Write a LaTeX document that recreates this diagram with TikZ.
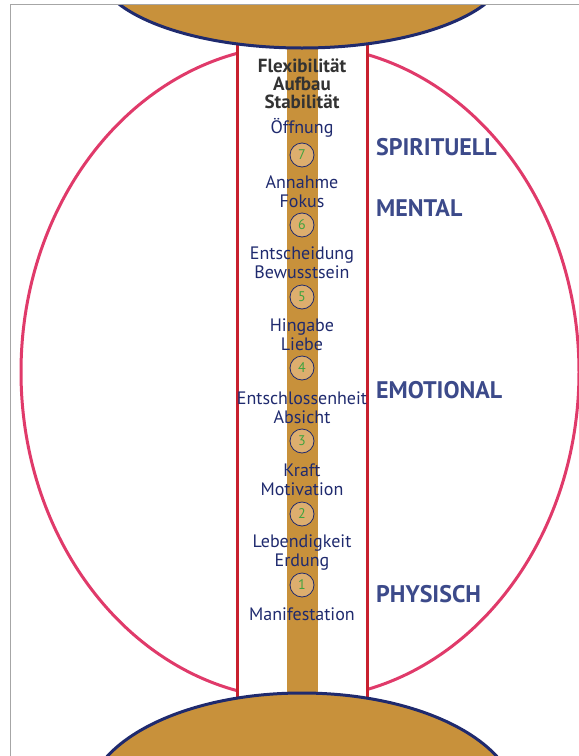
\documentclass[tikz,border=0pt]{standalone}
\usepackage{fontspec}
\setmainfont{PT Sans}
\usetikzlibrary{positioning}
\definecolor{Navy}{HTML}{1F2A6E}
\definecolor{Gold}{HTML}{C8913B}
\definecolor{Crimson}{HTML}{C8202E}
\definecolor{Rose}{HTML}{E03A6A}
\definecolor{Slate}{HTML}{3C4A8A}
\definecolor{Leaf}{HTML}{3FA33F}
\definecolor{Tan}{HTML}{DDAE6E}

\begin{document}
\begin{tikzpicture}[x=1pt,y=-1pt,
    stage/.style={font=\fontsize{18}{19.5}\selectfont,text=Navy,align=center,inner sep=0pt},
    level/.style={font=\fontsize{24}{26}\selectfont\bfseries,text=Slate,anchor=west,inner sep=0pt},
    num/.style={circle,draw=Navy,fill=Tan,line width=0.8pt,minimum size=24pt,inner sep=0pt,
      text=Leaf,font=\fontsize{14}{14}\selectfont}]
    \useasboundingbox (0,0) rectangle (579,756);
    \begin{scope}
      \clip (10,4) rectangle (579,756);
      % outer oval, cut by the strip
      \begin{scope}
        \clip (0,0) rectangle (237,756) (367,0) rectangle (579,756);
        \draw[Rose,line width=3pt] (300,372) ellipse [x radius=279pt,y radius=327pt];
      \end{scope}
      \draw[Crimson,line width=3pt] (237,30) -- (237,720) (367,30) -- (367,720);
      \fill[Gold] (287,30) rectangle (318,720);
      \filldraw[fill=Gold,draw=Navy,line width=3pt] (302,-32) ellipse [x radius=205pt,y radius=80pt];
      \filldraw[fill=Gold,draw=Navy,line width=3pt] (302,803) ellipse [x radius=215pt,y radius=110pt];
    \end{scope}
    \draw[gray!70,line width=1pt] (10,756) -- (10,4) -- (579,4);

    \node[stage,text=black!80,font=\fontsize{19}{18}\selectfont\bfseries] (head) at (302,84)
      {Flexibilität\\Aufbau\\Stabilität};
    \foreach \y/\t [count=\i] in {128/{Öffnung},191.5/{Annahme\\Fokus},262.5/{Entscheidung\\Bewusstsein},
        334.5/{Hingabe\\Liebe},407.5/{Entschlossenheit\\Absicht},479.5/{Kraft\\Motivation},
        552.5/{Lebendigkeit\\Erdung},614/{Manifestation}}
      \node[stage] (stage\i) at (302,\y) {\t};
    \foreach \n/\y in {7/155,6/225,5/297,4/368,3/441,2/514,1/585}
      \node[num] (num\n) at (302,\y) {\n};

    \node[level] (spirit) at (376,147) {SPIRITUELL};
    \node[level] (mental) at (376,208) {MENTAL};
    \node[level] (emot) at (376,390) {EMOTIONAL};
    \node[level] (phys) at (376,594) {PHYSISCH};
  \end{tikzpicture}
\end{document}
